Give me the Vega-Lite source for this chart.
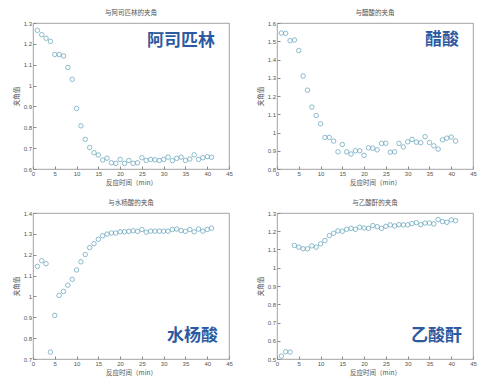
{
  "$schema": "https://vega.github.io/schema/vega-lite/v6.json",
  "background": "white",
  "padding": {"left": 12, "top": 9, "right": 5, "bottom": 5},
  "datasets": {
    "aspirin": [
      {"t":1,"v":1.265},{"t":2,"v":1.244},{"t":3,"v":1.227},{"t":4,"v":1.212},{"t":5,"v":1.149},{"t":6,"v":1.149},{"t":7,"v":1.142},{"t":8,"v":1.087},{"t":9,"v":1.030},{"t":10,"v":0.890},
      {"t":11,"v":0.807},{"t":12,"v":0.742},{"t":13,"v":0.703},{"t":14,"v":0.678},{"t":15,"v":0.667},{"t":16,"v":0.643},{"t":17,"v":0.652},{"t":18,"v":0.630},{"t":19,"v":0.627},{"t":20,"v":0.646},
      {"t":21,"v":0.627},{"t":22,"v":0.641},{"t":23,"v":0.627},{"t":24,"v":0.630},{"t":25,"v":0.654},{"t":26,"v":0.641},{"t":27,"v":0.646},{"t":28,"v":0.644},{"t":29,"v":0.641},{"t":30,"v":0.646},
      {"t":31,"v":0.657},{"t":32,"v":0.640},{"t":33,"v":0.651},{"t":34,"v":0.657},{"t":35,"v":0.641},{"t":36,"v":0.648},{"t":37,"v":0.668},{"t":38,"v":0.646},{"t":39,"v":0.654},{"t":40,"v":0.659},{"t":41,"v":0.656}
    ],
    "acetic": [
      {"t":1,"v":1.545},{"t":2,"v":1.543},{"t":3,"v":1.503},{"t":4,"v":1.507},{"t":5,"v":1.449},{"t":6,"v":1.310},{"t":7,"v":1.232},{"t":8,"v":1.139},{"t":9,"v":1.093},{"t":10,"v":1.048},
      {"t":11,"v":0.973},{"t":12,"v":0.973},{"t":13,"v":0.953},{"t":14,"v":0.894},{"t":15,"v":0.934},{"t":16,"v":0.894},{"t":17,"v":0.882},{"t":18,"v":0.900},{"t":19,"v":0.900},{"t":20,"v":0.875},
      {"t":21,"v":0.916},{"t":22,"v":0.914},{"t":23,"v":0.905},{"t":24,"v":0.940},{"t":25,"v":0.941},{"t":26,"v":0.892},{"t":27,"v":0.894},{"t":28,"v":0.940},{"t":29,"v":0.921},{"t":30,"v":0.949},
      {"t":31,"v":0.962},{"t":32,"v":0.947},{"t":33,"v":0.944},{"t":34,"v":0.977},{"t":35,"v":0.945},{"t":36,"v":0.927},{"t":37,"v":0.909},{"t":38,"v":0.960},{"t":39,"v":0.969},{"t":40,"v":0.975},{"t":41,"v":0.953}
    ],
    "salicylic": [
      {"t":1,"v":1.144},{"t":2,"v":1.171},{"t":3,"v":1.157},{"t":4,"v":0.733},{"t":5,"v":0.909},{"t":6,"v":1.005},{"t":7,"v":1.024},{"t":8,"v":1.054},{"t":9,"v":1.082},{"t":10,"v":1.127},
      {"t":11,"v":1.166},{"t":12,"v":1.201},{"t":13,"v":1.234},{"t":14,"v":1.253},{"t":15,"v":1.274},{"t":16,"v":1.291},{"t":17,"v":1.299},{"t":18,"v":1.304},{"t":19,"v":1.304},{"t":20,"v":1.310},
      {"t":21,"v":1.310},{"t":22,"v":1.312},{"t":23,"v":1.315},{"t":24,"v":1.312},{"t":25,"v":1.321},{"t":26,"v":1.308},{"t":27,"v":1.313},{"t":28,"v":1.313},{"t":29,"v":1.313},{"t":30,"v":1.313},
      {"t":31,"v":1.313},{"t":32,"v":1.321},{"t":33,"v":1.323},{"t":34,"v":1.316},{"t":35,"v":1.312},{"t":36,"v":1.321},{"t":37,"v":1.310},{"t":38,"v":1.323},{"t":39,"v":1.313},{"t":40,"v":1.321},{"t":41,"v":1.327}
    ],
    "anhydride": [
      {"t":1,"v":0.516},{"t":2,"v":0.540},{"t":3,"v":0.538},{"t":4,"v":1.122},{"t":5,"v":1.113},{"t":6,"v":1.104},{"t":7,"v":1.104},{"t":8,"v":1.120},{"t":9,"v":1.113},{"t":10,"v":1.131},
      {"t":11,"v":1.149},{"t":12,"v":1.176},{"t":13,"v":1.189},{"t":14,"v":1.202},{"t":15,"v":1.200},{"t":16,"v":1.211},{"t":17,"v":1.216},{"t":18,"v":1.211},{"t":19,"v":1.222},{"t":20,"v":1.218},
      {"t":21,"v":1.216},{"t":22,"v":1.231},{"t":23,"v":1.225},{"t":24,"v":1.216},{"t":25,"v":1.227},{"t":26,"v":1.235},{"t":27,"v":1.229},{"t":28,"v":1.236},{"t":29,"v":1.235},{"t":30,"v":1.235},
      {"t":31,"v":1.242},{"t":32,"v":1.247},{"t":33,"v":1.236},{"t":34,"v":1.245},{"t":35,"v":1.245},{"t":36,"v":1.240},{"t":37,"v":1.264},{"t":38,"v":1.253},{"t":39,"v":1.249},{"t":40,"v":1.262},{"t":41,"v":1.258}
    ]
  },
  "columns": 2,
  "spacing": {"row": 12, "column": 23},
  "concat": [
    {
      "title": "与阿司匹林的夹角",
      "width": 196, "height": 146,
      "layer": [
        {
          "data": {"name": "aspirin"},
          "mark": {"type": "point", "shape": "circle", "filled": false, "size": 20, "strokeWidth": 1, "color": "#5b9fb8"},
          "encoding": {
            "x": {"field": "t", "type": "quantitative", "scale": {"domain": [0, 45]}, "axis": {"values": [0,5,10,15,20,25,30,35,40,45], "title": "反应时间（min）"}},
            "y": {"field": "v", "type": "quantitative", "scale": {"domain": [0.6, 1.3]}, "axis": {"values": [0.6,0.7,0.8,0.9,1,1.1,1.2,1.3], "title": "夹角值"}}
          }
        },
        {
          "data": {"values": [{}]},
          "mark": {"type": "text", "text": "阿司匹林", "align": "right", "baseline": "middle", "fontSize": 17, "fontWeight": "bold", "font": "Noto Sans CJK SC", "color": "#2c5aa0"},
          "encoding": {
            "x": {"datum": 41.8, "type": "quantitative", "axis": {"values": [0,5,10,15,20,25,30,35,40,45], "title": "反应时间（min）"}},
            "y": {"datum": 1.214, "type": "quantitative", "axis": {"values": [0.6,0.7,0.8,0.9,1,1.1,1.2,1.3], "title": "夹角值"}}
          }
        }
      ]
    },
    {
      "title": "与醋酸的夹角",
      "width": 196, "height": 146,
      "layer": [
        {
          "data": {"name": "acetic"},
          "mark": {"type": "point", "shape": "circle", "filled": false, "size": 20, "strokeWidth": 1, "color": "#5b9fb8"},
          "encoding": {
            "x": {"field": "t", "type": "quantitative", "scale": {"domain": [0, 45]}, "axis": {"values": [0,5,10,15,20,25,30,35,40,45], "title": "反应时间（min）"}},
            "y": {"field": "v", "type": "quantitative", "scale": {"domain": [0.8, 1.6]}, "axis": {"values": [0.8,0.9,1,1.1,1.2,1.3,1.4,1.5,1.6], "title": "夹角值"}}
          }
        },
        {
          "data": {"values": [{}]},
          "mark": {"type": "text", "text": "醋酸", "align": "right", "baseline": "middle", "fontSize": 17, "fontWeight": "bold", "font": "Noto Sans CJK SC", "color": "#2c5aa0"},
          "encoding": {
            "x": {"datum": 41.8, "type": "quantitative", "axis": {"values": [0,5,10,15,20,25,30,35,40,45], "title": "反应时间（min）"}},
            "y": {"datum": 1.507, "type": "quantitative", "axis": {"values": [0.8,0.9,1,1.1,1.2,1.3,1.4,1.5,1.6], "title": "夹角值"}}
          }
        }
      ]
    },
    {
      "title": "与水杨酸的夹角",
      "width": 196, "height": 146,
      "layer": [
        {
          "data": {"name": "salicylic"},
          "mark": {"type": "point", "shape": "circle", "filled": false, "size": 20, "strokeWidth": 1, "color": "#5b9fb8"},
          "encoding": {
            "x": {"field": "t", "type": "quantitative", "scale": {"domain": [0, 45]}, "axis": {"values": [0,5,10,15,20,25,30,35,40,45], "title": "反应时间（min）"}},
            "y": {"field": "v", "type": "quantitative", "scale": {"domain": [0.7, 1.4]}, "axis": {"values": [0.7,0.8,0.9,1,1.1,1.2,1.3,1.4], "title": "夹角值"}}
          }
        },
        {
          "data": {"values": [{}]},
          "mark": {"type": "text", "text": "水杨酸", "align": "right", "baseline": "middle", "fontSize": 17, "fontWeight": "bold", "font": "Noto Sans CJK SC", "color": "#2c5aa0"},
          "encoding": {
            "x": {"datum": 42.5, "type": "quantitative", "axis": {"values": [0,5,10,15,20,25,30,35,40,45], "title": "反应时间（min）"}},
            "y": {"datum": 0.81, "type": "quantitative", "axis": {"values": [0.7,0.8,0.9,1,1.1,1.2,1.3,1.4], "title": "夹角值"}}
          }
        }
      ]
    },
    {
      "title": "与乙酸酐的夹角",
      "width": 196, "height": 146,
      "layer": [
        {
          "data": {"name": "anhydride"},
          "mark": {"type": "point", "shape": "circle", "filled": false, "size": 20, "strokeWidth": 1, "color": "#5b9fb8"},
          "encoding": {
            "x": {"field": "t", "type": "quantitative", "scale": {"domain": [0, 45]}, "axis": {"values": [0,5,10,15,20,25,30,35,40,45], "title": "反应时间（min）"}},
            "y": {"field": "v", "type": "quantitative", "scale": {"domain": [0.5, 1.3]}, "axis": {"values": [0.5,0.6,0.7,0.8,0.9,1,1.1,1.2,1.3], "title": "夹角值"}}
          }
        },
        {
          "data": {"values": [{}]},
          "mark": {"type": "text", "text": "乙酸酐", "align": "right", "baseline": "middle", "fontSize": 17, "fontWeight": "bold", "font": "Noto Sans CJK SC", "color": "#2c5aa0"},
          "encoding": {
            "x": {"datum": 42.5, "type": "quantitative", "axis": {"values": [0,5,10,15,20,25,30,35,40,45], "title": "反应时间（min）"}},
            "y": {"datum": 0.626, "type": "quantitative", "axis": {"values": [0.5,0.6,0.7,0.8,0.9,1,1.1,1.2,1.3], "title": "夹角值"}}
          }
        }
      ]
    }
  ],
  "config": {
    "font": "Noto Sans CJK SC",
    "view": {"stroke": "#8a8a8a", "strokeWidth": 0.8},
    "title": {"fontSize": 6.5, "fontWeight": "normal", "color": "#555", "offset": 4, "font": "Noto Sans CJK SC"},
    "axis": {
      "grid": false,
      "domain": false,
      "labelFont": "Liberation Sans",
      "labelFontSize": 6,
      "labelColor": "#555",
      "labelOverlap": false,
      "labelFlush": false,
      "format": "~r",
      "titleFont": "Noto Sans CJK SC",
      "titleFontSize": 6.5,
      "titleFontWeight": "normal",
      "titleColor": "#555",
      "tickColor": "#8a8a8a",
      "tickSize": -3,
      "labelPadding": 4.5
    },
    "axisX": {"titlePadding": 3},
    "axisY": {"titlePadding": 4}
  }
}
